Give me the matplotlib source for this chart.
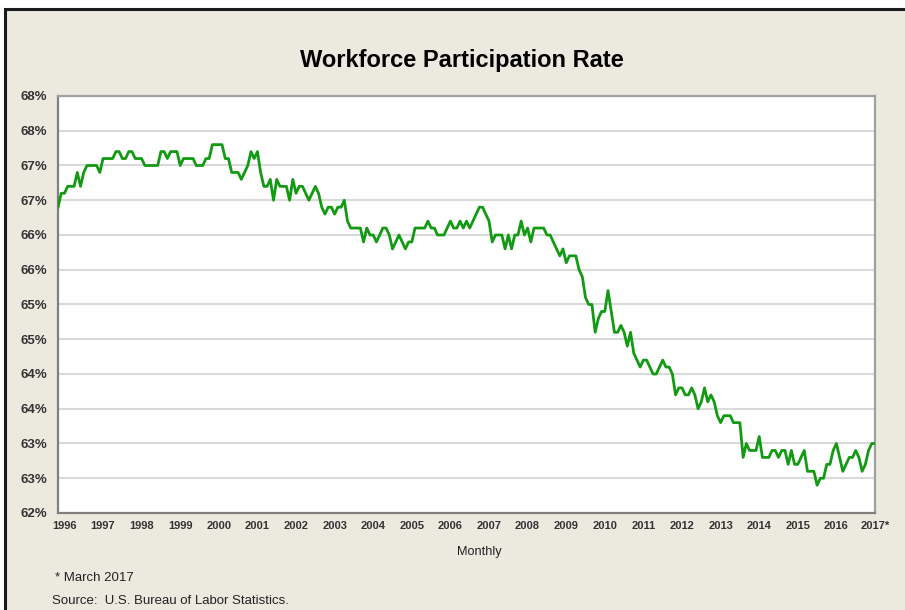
import numpy as np
import matplotlib
matplotlib.use("Agg")
import matplotlib.pyplot as plt
from matplotlib.patches import Rectangle
from matplotlib.ticker import FuncFormatter

# ----- data (monthly, Jan 1996 - Mar 2017) -----
rate_1996 = [66.4, 66.6, 66.6, 66.7, 66.7, 66.7, 66.9, 66.7, 66.9, 67.0, 67.0, 67.0]
rate_1997 = [67.0, 66.9, 67.1, 67.1, 67.1, 67.1, 67.2, 67.2, 67.1, 67.1, 67.2, 67.2]
rate_1998 = [67.1, 67.1, 67.1, 67.0, 67.0, 67.0, 67.0, 67.0, 67.2, 67.2, 67.1, 67.2]
rate_1999 = [67.2, 67.2, 67.0, 67.1, 67.1, 67.1, 67.1, 67.0, 67.0, 67.0, 67.1, 67.1]
rate_2000 = [67.3, 67.3, 67.3, 67.3, 67.1, 67.1, 66.9, 66.9, 66.9, 66.8, 66.9, 67.0]
rate_2001 = [67.2, 67.1, 67.2, 66.9, 66.7, 66.7, 66.8, 66.5, 66.8, 66.7, 66.7, 66.7]
rate_2002 = [66.5, 66.8, 66.6, 66.7, 66.7, 66.6, 66.5, 66.6, 66.7, 66.6, 66.4, 66.3]
rate_2003 = [66.4, 66.4, 66.3, 66.4, 66.4, 66.5, 66.2, 66.1, 66.1, 66.1, 66.1, 65.9]
rate_2004 = [66.1, 66.0, 66.0, 65.9, 66.0, 66.1, 66.1, 66.0, 65.8, 65.9, 66.0, 65.9]
rate_2005 = [65.8, 65.9, 65.9, 66.1, 66.1, 66.1, 66.1, 66.2, 66.1, 66.1, 66.0, 66.0]
rate_2006 = [66.0, 66.1, 66.2, 66.1, 66.1, 66.2, 66.1, 66.2, 66.1, 66.2, 66.3, 66.4]
rate_2007 = [66.4, 66.3, 66.2, 65.9, 66.0, 66.0, 66.0, 65.8, 66.0, 65.8, 66.0, 66.0]
rate_2008 = [66.2, 66.0, 66.1, 65.9, 66.1, 66.1, 66.1, 66.1, 66.0, 66.0, 65.9, 65.8]
rate_2009 = [65.7, 65.8, 65.6, 65.7, 65.7, 65.7, 65.5, 65.4, 65.1, 65.0, 65.0, 64.6]
rate_2010 = [64.8, 64.9, 64.9, 65.2, 64.9, 64.6, 64.6, 64.7, 64.6, 64.4, 64.6, 64.3]
rate_2011 = [64.2, 64.1, 64.2, 64.2, 64.1, 64.0, 64.0, 64.1, 64.2, 64.1, 64.1, 64.0]
rate_2012 = [63.7, 63.8, 63.8, 63.7, 63.7, 63.8, 63.7, 63.5, 63.6, 63.8, 63.6, 63.7]
rate_2013 = [63.6, 63.4, 63.3, 63.4, 63.4, 63.4, 63.3, 63.3, 63.3, 62.8, 63.0, 62.9]
rate_2014 = [62.9, 62.9, 63.1, 62.8, 62.8, 62.8, 62.9, 62.9, 62.8, 62.9, 62.9, 62.7]
rate_2015 = [62.9, 62.7, 62.7, 62.8, 62.9, 62.6, 62.6, 62.6, 62.4, 62.5, 62.5, 62.7]
rate_2016 = [62.7, 62.9, 63.0, 62.8, 62.6, 62.7, 62.8, 62.8, 62.9, 62.8, 62.6, 62.7]
rate_2017 = [62.9, 63.0, 63.0]

year_labels = [str(y) for y in range(1996, 2017)] + ["2017*"]
y_ticks = [62.0, 62.5, 63.0, 63.5, 64.0, 64.5, 65.0, 65.5, 66.0, 66.5, 67.0, 67.5, 68.0]

rate = np.array(rate_1996 + rate_1997 + rate_1998 + rate_1999 + rate_2000 + rate_2001
                + rate_2002 + rate_2003 + rate_2004 + rate_2005 + rate_2006 + rate_2007
                + rate_2008 + rate_2009 + rate_2010 + rate_2011 + rate_2012 + rate_2013
                + rate_2014 + rate_2015 + rate_2016 + rate_2017)
months = np.arange(len(rate))

# ----- figure -----
BG = "#ECE9DF"
plt.rcParams["font.family"] = ["Liberation Sans", "DejaVu Sans"]

fig = plt.figure(figsize=(9.05, 6.1), dpi=100)
fig.patch.set_facecolor("white")
W, H = 905, 610

# beige panel with dark border (top and left visible)
panel = Rectangle((5 / W, -0.05), 1.1, 1 - 9 / H + 0.05, transform=fig.transFigure,
                  facecolor=BG, edgecolor="#1a1a1a", linewidth=2.2, zorder=-10)
fig.add_artist(panel)

ax = fig.add_axes([58 / W, 1 - 513 / H, (875 - 58) / W, (513 - 96) / H])
ax.set_facecolor("white")
ax.plot(months, rate, color="#139A13", linewidth=2.0, solid_joinstyle="round", zorder=3)

ax.set_xlim(0, len(rate) - 1)
ax.set_ylim(62, 68)
ax.set_yticks(y_ticks)
ax.yaxis.set_major_formatter(FuncFormatter(lambda v, p: "%d%%" % int(np.floor(v + 0.5))))
ax.set_xticks(months[2::12])
ax.set_xticklabels(year_labels)
ax.tick_params(axis="both", length=0)
ax.tick_params(axis="y", pad=8, labelsize=9.5, labelcolor="#333333")
ax.tick_params(axis="x", pad=6, labelsize=8.0, labelcolor="#333333")
for lab in ax.get_xticklabels() + ax.get_yticklabels():
    lab.set_fontweight("bold")

ax.grid(axis="y", color="#DADADA", linewidth=1.5)
ax.set_axisbelow(True)
for side in ["top", "right"]:
    ax.spines[side].set_color("#A0A0A0")
    ax.spines[side].set_linewidth(1.6)
for side in ["left", "bottom"]:
    ax.spines[side].set_color("#808080")
    ax.spines[side].set_linewidth(1.6)

fig.text(462 / W, 1 - 60 / H, "Workforce Participation Rate", ha="center", va="center",
         fontsize=17, fontweight="bold", color="black")
fig.text(479 / W, 1 - 552 / H, "Monthly", ha="center", va="center", fontsize=9.2, color="#222222")
fig.text(55 / W, 1 - 578 / H, "* March 2017", ha="left", va="center", fontsize=9.5, color="#222222")
fig.text(52 / W, 1 - 601 / H, "Source:  U.S. Bureau of Labor Statistics.", ha="left", va="center",
         fontsize=9.5, color="#222222")

fig.savefig("out.png", dpi=100, facecolor=fig.get_facecolor())
